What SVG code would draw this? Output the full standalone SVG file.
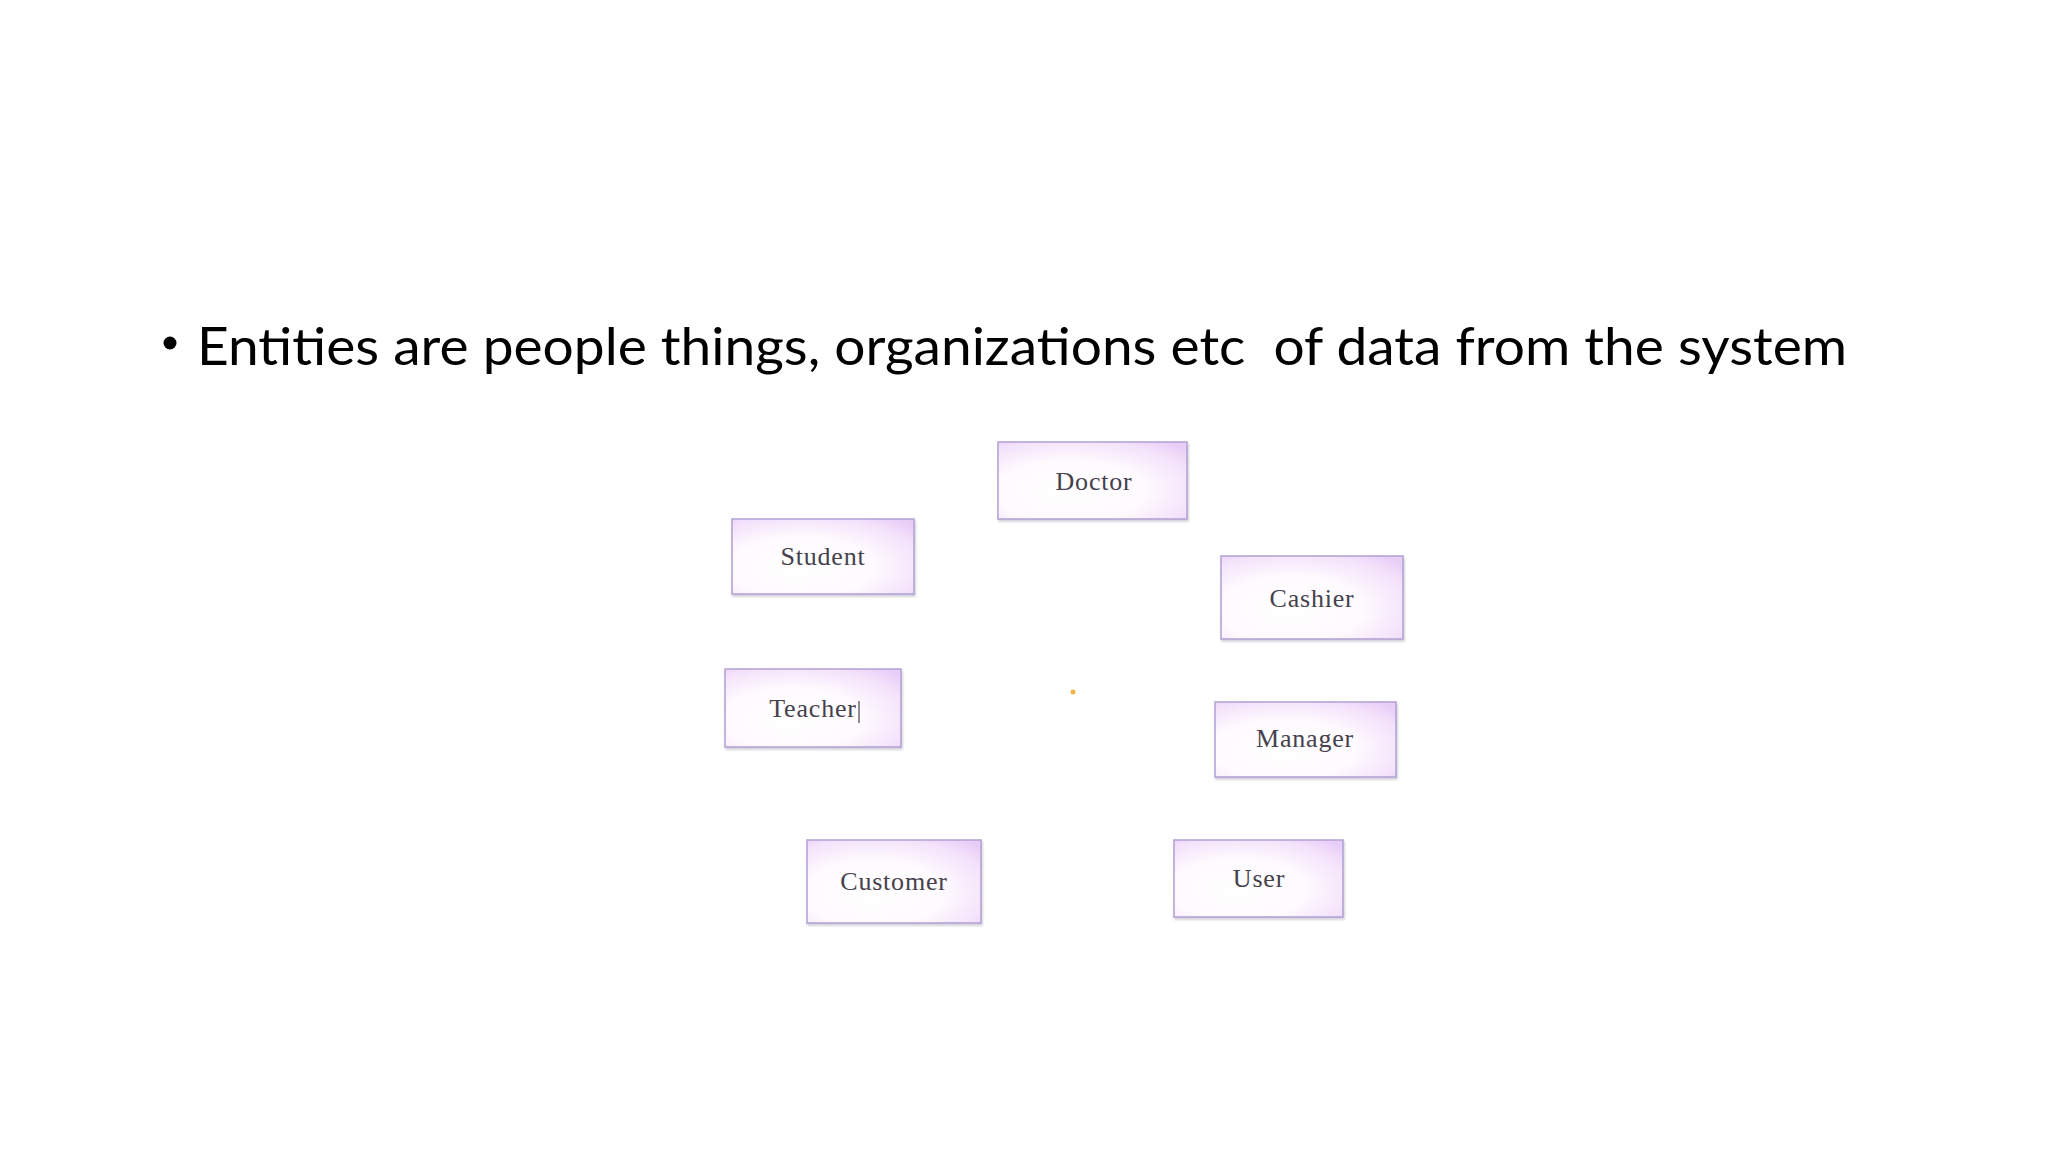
<svg xmlns="http://www.w3.org/2000/svg" width="2048" height="1152" viewBox="0 0 2048 1152">
  <defs>
    <radialGradient id="boxfill" cx="0.4" cy="0.62" r="0.8" fx="0.36" fy="0.66">
      <stop offset="0" stop-color="#ffffff"/>
      <stop offset="0.5" stop-color="#fefafe"/>
      <stop offset="0.82" stop-color="#f4e2fb"/>
      <stop offset="1" stop-color="#e8cdf7"/>
    </radialGradient>
    <filter id="shadow" x="-5%" y="-5%" width="112%" height="120%">
      <feDropShadow dx="1" dy="2" stdDeviation="1.2" flood-color="#8a8a9a" flood-opacity="0.4"/>
    </filter>
  </defs>
  <style>
    .box { fill: url(#boxfill); stroke: #b4a6d6; stroke-width: 1.6; filter: url(#shadow); }
    .label { font-family: "Liberation Serif", "DejaVu Serif", serif; font-size: 26px; fill: #45414d; text-anchor: middle; letter-spacing: 0.8px; }
    .title { font-family: "Lato", "Open Sans", "Liberation Sans", sans-serif; font-size: 52px; fill: #000000; white-space: pre; }
  </style>
  <rect width="2048" height="1152" fill="#ffffff"/>

  <g id="title">
    <circle cx="170" cy="343" r="6.5" fill="#000000"/>
    <text class="title" x="197" y="365" textLength="1650" lengthAdjust="spacingAndGlyphs" xml:space="preserve">Entities are people things, organizations etc  of data from the system</text>
  </g>

  <g id="connectors"></g>

  <g id="node-doctor">
    <rect class="box" x="998" y="442" width="189" height="77"/>
    <text class="label" x="1094" y="490">Doctor</text>
  </g>
  <g id="node-student">
    <rect class="box" x="732" y="519" width="182" height="75"/>
    <text class="label" x="823" y="565">Student</text>
  </g>
  <g id="node-cashier">
    <rect class="box" x="1221" y="556" width="182" height="83"/>
    <text class="label" x="1312" y="607">Cashier</text>
  </g>
  <g id="node-teacher">
    <rect class="box" x="725" y="669" width="176" height="78"/>
    <text class="label" x="813" y="717">Teacher</text>
    <line x1="859" y1="701" x2="859" y2="723" stroke="#45414d" stroke-width="1.2"/>
  </g>
  <g id="node-manager">
    <rect class="box" x="1215" y="702" width="181" height="75"/>
    <text class="label" x="1305" y="747">Manager</text>
  </g>
  <g id="node-customer">
    <rect class="box" x="807" y="840" width="174" height="83"/>
    <text class="label" x="894" y="890">Customer</text>
  </g>
  <g id="node-user">
    <rect class="box" x="1174" y="840" width="169" height="77"/>
    <text class="label" x="1259" y="887">User</text>
  </g>

  <circle cx="1073" cy="692" r="2.5" fill="#f2b24a"/>
</svg>
